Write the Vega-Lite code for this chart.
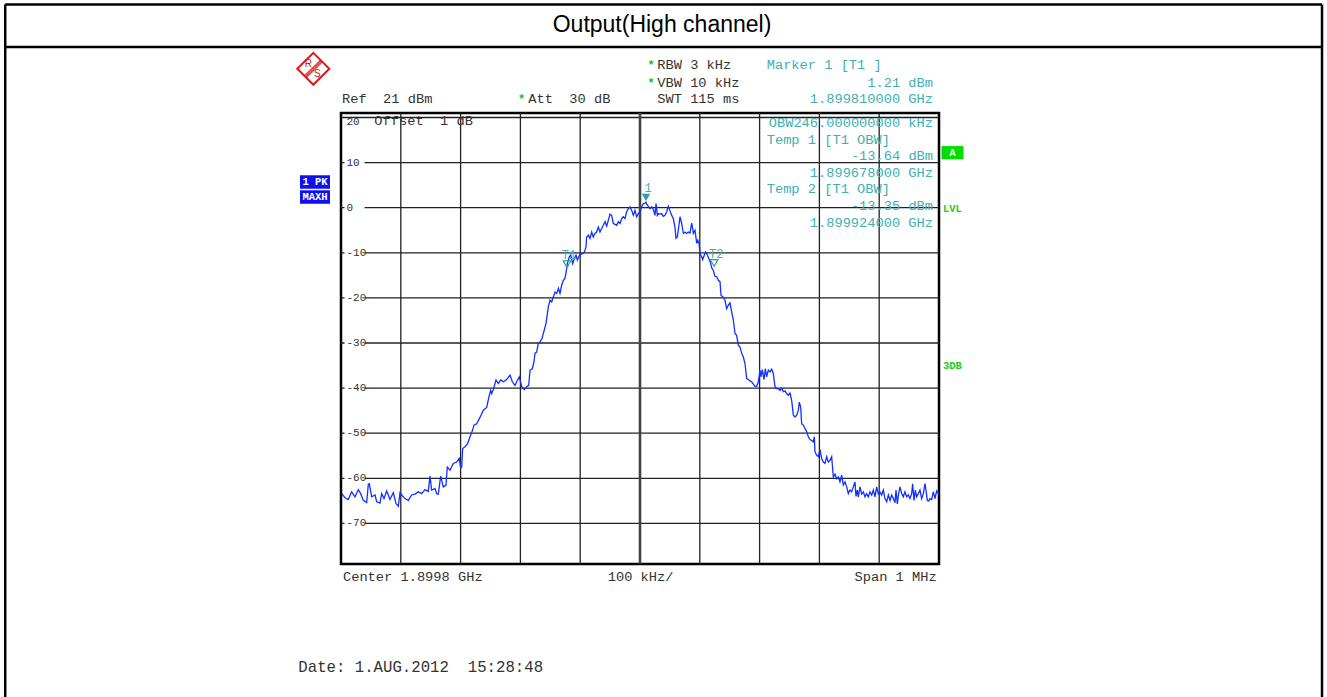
{
  "$schema": "https://vega.github.io/schema/vega-lite/v6.json",
  "width": 598,
  "height": 451,
  "autosize": {"type": "none"},
  "padding": {"left": 341, "top": 113, "right": 388, "bottom": 133},
  "background": "white",
  "config": {"view": {"stroke": "#000", "strokeWidth": 2.5}, "font": "Liberation Mono"},
  "datasets": {
    "trace": [
      {"f":1899.3011,"dBm":-63.4},{"f":1899.3067,"dBm":-64.3},{"f":1899.3122,"dBm":-64.7},{"f":1899.3178,"dBm":-63.0},{"f":1899.3234,"dBm":-64.1},{"f":1899.3289,"dBm":-62.5},{"f":1899.3329,"dBm":-63.4},{"f":1899.3373,"dBm":-64.9},{"f":1899.3429,"dBm":-65.4},{"f":1899.3457,"dBm":-61.3},{"f":1899.3473,"dBm":-61.2},{"f":1899.3513,"dBm":-64.1},{"f":1899.3569,"dBm":-63.7},{"f":1899.3597,"dBm":-65.2},{"f":1899.3652,"dBm":-65.5},{"f":1899.368,"dBm":-63.4},{"f":1899.3719,"dBm":-64.5},{"f":1899.3764,"dBm":-62.8},{"f":1899.3819,"dBm":-64.7},{"f":1899.3875,"dBm":-63.2},{"f":1899.392,"dBm":-65.6},{"f":1899.3958,"dBm":-66.2},{"f":1899.3987,"dBm":-63.2},{"f":1899.4015,"dBm":-63.7},{"f":1899.407,"dBm":-64.5},{"f":1899.4126,"dBm":-64.9},{"f":1899.4182,"dBm":-63.7},{"f":1899.4238,"dBm":-63.5},{"f":1899.4293,"dBm":-63.0},{"f":1899.4349,"dBm":-63.4},{"f":1899.4405,"dBm":-62.5},{"f":1899.446,"dBm":-62.9},{"f":1899.4488,"dBm":-59.5},{"f":1899.4516,"dBm":-62.6},{"f":1899.4572,"dBm":-62.3},{"f":1899.46,"dBm":-63.4},{"f":1899.4627,"dBm":-63.5},{"f":1899.4667,"dBm":-59.5},{"f":1899.4711,"dBm":-61.9},{"f":1899.4756,"dBm":-61.5},{"f":1899.4778,"dBm":-57.5},{"f":1899.4823,"dBm":-58.2},{"f":1899.4878,"dBm":-56.7},{"f":1899.4934,"dBm":-56.4},{"f":1899.4978,"dBm":-55.6},{"f":1899.5001,"dBm":-57.7},{"f":1899.5018,"dBm":-57.5},{"f":1899.5035,"dBm":-53.4},{"f":1899.5074,"dBm":-53.0},{"f":1899.5118,"dBm":-52.3},{"f":1899.5157,"dBm":-50.8},{"f":1899.5201,"dBm":-49.3},{"f":1899.5224,"dBm":-48.2},{"f":1899.5269,"dBm":-47.9},{"f":1899.5324,"dBm":-46.5},{"f":1899.538,"dBm":-44.9},{"f":1899.5436,"dBm":-44.3},{"f":1899.548,"dBm":-41.6},{"f":1899.5502,"dBm":-40.5},{"f":1899.5519,"dBm":-41.2},{"f":1899.5547,"dBm":-40.3},{"f":1899.5592,"dBm":-38.2},{"f":1899.5631,"dBm":-39.0},{"f":1899.5671,"dBm":-38.2},{"f":1899.5714,"dBm":-38.6},{"f":1899.5771,"dBm":-38.1},{"f":1899.5826,"dBm":-37.1},{"f":1899.5865,"dBm":-38.6},{"f":1899.591,"dBm":-39.4},{"f":1899.5938,"dBm":-38.6},{"f":1899.5982,"dBm":-37.5},{"f":1899.6022,"dBm":-39.7},{"f":1899.6066,"dBm":-40.3},{"f":1899.6105,"dBm":-39.7},{"f":1899.6139,"dBm":-39.4},{"f":1899.6161,"dBm":-36.0},{"f":1899.6199,"dBm":-35.7},{"f":1899.6227,"dBm":-34.2},{"f":1899.6244,"dBm":-32.3},{"f":1899.6272,"dBm":-32.0},{"f":1899.6299,"dBm":-30.1},{"f":1899.6328,"dBm":-29.8},{"f":1899.6361,"dBm":-29.0},
      {"f":1899.6428,"dBm":-25.7},{"f":1899.6467,"dBm":-22.0},{"f":1899.6495,"dBm":-20.5},{"f":1899.6523,"dBm":-20.9},{"f":1899.6551,"dBm":-19.8},{"f":1899.6579,"dBm":-18.7},{"f":1899.6607,"dBm":-19.0},{"f":1899.6636,"dBm":-17.9},{"f":1899.6662,"dBm":-19.0},{"f":1899.669,"dBm":-17.2},{"f":1899.6718,"dBm":-16.1},{"f":1899.6746,"dBm":-15.7},{"f":1899.6774,"dBm":-13.5},{"f":1899.6785,"dBm":-12.4},{"f":1899.6818,"dBm":-10.9},{"f":1899.6841,"dBm":-10.5},{"f":1899.6874,"dBm":-12.4},{"f":1899.6902,"dBm":-11.3},{"f":1899.693,"dBm":-10.5},{"f":1899.6952,"dBm":-11.6},{"f":1899.6975,"dBm":-10.9},{"f":1899.6997,"dBm":-10.3},{"f":1899.7025,"dBm":-10.3},{"f":1899.7064,"dBm":-10.0},{"f":1899.708,"dBm":-9.4},{"f":1899.7097,"dBm":-8.7},{"f":1899.7108,"dBm":-6.5},{"f":1899.7136,"dBm":-6.1},{"f":1899.7164,"dBm":-6.8},{"f":1899.7192,"dBm":-5.4},{"f":1899.7219,"dBm":-6.5},{"f":1899.7247,"dBm":-5.7},{"f":1899.7275,"dBm":-5.4},{"f":1899.7303,"dBm":-4.3},{"f":1899.7331,"dBm":-5.4},{"f":1899.7359,"dBm":-4.6},{"f":1899.7387,"dBm":-3.9},{"f":1899.7415,"dBm":-3.1},{"f":1899.7443,"dBm":-4.1},{"f":1899.747,"dBm":-2.8},{"f":1899.7498,"dBm":-1.4},{"f":1899.7526,"dBm":-1.7},{"f":1899.7554,"dBm":-3.5},{"f":1899.7582,"dBm":-3.7},{"f":1899.761,"dBm":-3.9},{"f":1899.7638,"dBm":-3.1},{"f":1899.7666,"dBm":-3.5},{"f":1899.7694,"dBm":-2.4},{"f":1899.7721,"dBm":-2.0},{"f":1899.7749,"dBm":-2.4},{"f":1899.7777,"dBm":-0.9},{"f":1899.7805,"dBm":-0.2},{"f":1899.7833,"dBm":0.2},{"f":1899.7861,"dBm":-0.6},{"f":1899.7889,"dBm":-1.7},{"f":1899.7916,"dBm":-0.6},{"f":1899.7944,"dBm":-2.0},{"f":1899.7972,"dBm":-1.3},
      {"f":1899.8,"dBm":-0.9},{"f":1899.8028,"dBm":0.2},{"f":1899.8056,"dBm":0.9},{"f":1899.8084,"dBm":1.0},{"f":1899.81,"dBm":1.21},{"f":1899.8111,"dBm":0.8},{"f":1899.8139,"dBm":0.3},{"f":1899.8167,"dBm":-0.2},{"f":1899.8195,"dBm":0.2},{"f":1899.8223,"dBm":-0.4},{"f":1899.8251,"dBm":-1.7},{"f":1899.8268,"dBm":0.9},{"f":1899.829,"dBm":-1.7},{"f":1899.8307,"dBm":-1.3},{"f":1899.8334,"dBm":-1.4},{"f":1899.8362,"dBm":-1.3},{"f":1899.839,"dBm":-1.9},{"f":1899.8418,"dBm":-1.7},{"f":1899.8446,"dBm":-0.9},{"f":1899.8474,"dBm":0.3},{"f":1899.8502,"dBm":-0.7},{"f":1899.853,"dBm":-1.7},{"f":1899.8557,"dBm":-2.4},{"f":1899.8585,"dBm":-4.3},{"f":1899.8602,"dBm":-6.8},{"f":1899.8624,"dBm":-6.5},{"f":1899.8647,"dBm":-4.3},{"f":1899.8669,"dBm":-2.0},{"f":1899.8697,"dBm":-3.5},{"f":1899.8725,"dBm":-5.7},{"f":1899.8753,"dBm":-5.4},{"f":1899.878,"dBm":-5.7},{"f":1899.8808,"dBm":-5.4},{"f":1899.8836,"dBm":-5.6},{"f":1899.8864,"dBm":-3.4},{"f":1899.8881,"dBm":-4.6},{"f":1899.8892,"dBm":-5.7},{"f":1899.892,"dBm":-5.0},{"f":1899.8948,"dBm":-7.9},{"f":1899.8964,"dBm":-7.2},{"f":1899.8987,"dBm":-7.9},{"f":1899.9003,"dBm":-10.2},{"f":1899.9031,"dBm":-10.9},{"f":1899.9048,"dBm":-11.5},{"f":1899.9076,"dBm":-10.5},{"f":1899.9098,"dBm":-9.8},{"f":1899.9126,"dBm":-10.5},{"f":1899.9154,"dBm":-11.3},{"f":1899.9182,"dBm":-12.4},{"f":1899.9198,"dBm":-13.3},{"f":1899.9226,"dBm":-13.9},{"f":1899.9254,"dBm":-15.2},{"f":1899.9282,"dBm":-15.3},{"f":1899.931,"dBm":-16.1},{"f":1899.9338,"dBm":-16.4},{"f":1899.9354,"dBm":-19.4},{"f":1899.9394,"dBm":-19.9},{"f":1899.9421,"dBm":-20.5},{"f":1899.9449,"dBm":-22.4},{"f":1899.9477,"dBm":-21.6},{"f":1899.9505,"dBm":-21.1},{"f":1899.9533,"dBm":-23.1},{"f":1899.9561,"dBm":-24.9},{"f":1899.9589,"dBm":-27.9},{"f":1899.9616,"dBm":-28.3},{"f":1899.9644,"dBm":-30.5},{"f":1899.9672,"dBm":-30.9},{"f":1899.97,"dBm":-32.3},{"f":1899.9728,"dBm":-33.1},{"f":1899.9756,"dBm":-34.6},{"f":1899.9784,"dBm":-37.9},{"f":1899.9812,"dBm":-38.1},{"f":1899.9839,"dBm":-38.4},{"f":1899.9867,"dBm":-38.6},{"f":1899.9895,"dBm":-39.1},{"f":1899.9923,"dBm":-39.6},{"f":1899.9951,"dBm":-39.6},{"f":1899.9979,"dBm":-38.6},{"f":1900.0007,"dBm":-36.0},{"f":1900.0023,"dBm":-37.5},{"f":1900.0046,"dBm":-35.9},{"f":1900.0074,"dBm":-38.1},{"f":1900.0096,"dBm":-35.7},{"f":1900.0118,"dBm":-37.5},{"f":1900.0146,"dBm":-36.0},{"f":1900.0174,"dBm":-36.4},{"f":1900.0202,"dBm":-35.8},{"f":1900.023,"dBm":-36.8},{"f":1900.0257,"dBm":-39.7},{"f":1900.0285,"dBm":-40.1},{"f":1900.0313,"dBm":-40.1},{"f":1900.0341,"dBm":-40.5},{"f":1900.0369,"dBm":-40.0},{"f":1900.0397,"dBm":-40.8},{"f":1900.0425,"dBm":-40.6},{"f":1900.0453,"dBm":-41.2},{"f":1900.048,"dBm":-41.6},{"f":1900.0508,"dBm":-41.1},{"f":1900.0536,"dBm":-42.7},{"f":1900.0564,"dBm":-46.0},{"f":1900.0592,"dBm":-46.4},{"f":1900.062,"dBm":-46.0},{"f":1900.0648,"dBm":-44.9},{"f":1900.0664,"dBm":-43.1},{"f":1900.0687,"dBm":-44.2},{"f":1900.0703,"dBm":-47.9},{"f":1900.0731,"dBm":-48.2},{"f":1900.0759,"dBm":-49.0},{"f":1900.0787,"dBm":-49.6},
      {"f":1900.0815,"dBm":-50.8},{"f":1900.0843,"dBm":-51.4},{"f":1900.0871,"dBm":-51.6},{"f":1900.0898,"dBm":-51.9},{"f":1900.0915,"dBm":-50.8},{"f":1900.0926,"dBm":-54.1},{"f":1900.0954,"dBm":-54.9},{"f":1900.0982,"dBm":-55.2},{"f":1900.101,"dBm":-53.6},{"f":1900.1038,"dBm":-55.6},{"f":1900.1066,"dBm":-56.4},{"f":1900.1094,"dBm":-56.7},{"f":1900.1121,"dBm":-55.2},{"f":1900.1149,"dBm":-56.4},{"f":1900.1177,"dBm":-56.0},{"f":1900.1205,"dBm":-55.2},{"f":1900.1233,"dBm":-59.7},{"f":1900.1261,"dBm":-59.1},{"f":1900.1289,"dBm":-60.1},{"f":1900.1317,"dBm":-59.7},{"f":1900.1344,"dBm":-60.8},{"f":1900.1372,"dBm":-59.3},{"f":1900.14,"dBm":-61.5},{"f":1900.1428,"dBm":-60.8},{"f":1900.1456,"dBm":-61.9},{"f":1900.1484,"dBm":-63.4},{"f":1900.1512,"dBm":-62.6},{"f":1900.1539,"dBm":-63.0},{"f":1900.1567,"dBm":-61.9},{"f":1900.1595,"dBm":-60.8},{"f":1900.1612,"dBm":-64.0},{"f":1900.1634,"dBm":-62.6},{"f":1900.1651,"dBm":-64.1},{"f":1900.1679,"dBm":-61.9},{"f":1900.1707,"dBm":-63.5},{"f":1900.1735,"dBm":-63.0},{"f":1900.1762,"dBm":-64.1},{"f":1900.179,"dBm":-63.4},{"f":1900.1818,"dBm":-64.1},{"f":1900.1846,"dBm":-63.0},{"f":1900.1874,"dBm":-63.7},{"f":1900.1902,"dBm":-62.6},{"f":1900.193,"dBm":-64.1},{"f":1900.1958,"dBm":-61.9},{"f":1900.1985,"dBm":-63.5},{"f":1900.2013,"dBm":-63.0},{"f":1900.2041,"dBm":-63.7},{"f":1900.2069,"dBm":-62.6},{"f":1900.2097,"dBm":-64.5},{"f":1900.2125,"dBm":-65.2},{"f":1900.2153,"dBm":-63.7},{"f":1900.2181,"dBm":-64.9},{"f":1900.2208,"dBm":-63.7},{"f":1900.2236,"dBm":-64.5},{"f":1900.2264,"dBm":-65.4},{"f":1900.2281,"dBm":-62.6},{"f":1900.2303,"dBm":-65.7},{"f":1900.2325,"dBm":-63.4},{"f":1900.2348,"dBm":-61.9},{"f":1900.2376,"dBm":-63.4},{"f":1900.2403,"dBm":-64.1},{"f":1900.2431,"dBm":-63.0},{"f":1900.2459,"dBm":-64.1},{"f":1900.2487,"dBm":-63.7},{"f":1900.2515,"dBm":-64.5},{"f":1900.2543,"dBm":-63.4},{"f":1900.2559,"dBm":-61.2},{"f":1900.2582,"dBm":-64.9},{"f":1900.2604,"dBm":-62.6},{"f":1900.2626,"dBm":-64.1},{"f":1900.2654,"dBm":-63.4},{"f":1900.2682,"dBm":-62.6},{"f":1900.271,"dBm":-64.5},{"f":1900.2738,"dBm":-63.4},{"f":1900.2766,"dBm":-61.2},{"f":1900.2782,"dBm":-62.6},{"f":1900.2805,"dBm":-64.9},{"f":1900.2827,"dBm":-65.0},{"f":1900.2849,"dBm":-64.5},{"f":1900.2877,"dBm":-64.7},{"f":1900.2905,"dBm":-63.0},{"f":1900.2933,"dBm":-64.5},{"f":1900.2961,"dBm":-62.8},{"f":1900.2995,"dBm":-63.5}
    ],
    "vgrid": [
      {"g": 1899.4}, {"g": 1899.5}, {"g": 1899.6}, {"g": 1899.7}, {"g": 1899.9}, {"g": 1900.0}, {"g": 1900.1}, {"g": 1900.2}
    ],
    "hgrid": [
      {"g": 20}, {"g": 10}, {"g": 0}, {"g": -10}, {"g": -20}, {"g": -30}, {"g": -40}, {"g": -50}, {"g": -60}, {"g": -70}
    ],
    "markers": [
      {"name": "1", "f": 1899.81, "dBm": 1.21, "kind": "marker"},
      {"name": "T1", "f": 1899.678, "dBm": -13.64, "kind": "temp"},
      {"name": "T2", "f": 1899.924, "dBm": -13.35, "kind": "temp"}
    ],
    "levels": [
      {"v": 10, "lbl": "10"}, {"v": 0, "lbl": "0"}, {"v": -10, "lbl": "-10"}, {"v": -20, "lbl": "-20"},
      {"v": -30, "lbl": "-30"}, {"v": -40, "lbl": "-40"}, {"v": -50, "lbl": "-50"}, {"v": -60, "lbl": "-60"}, {"v": -70, "lbl": "-70"}
    ],
    "blackLeft": [
      {"t": "Ref\u00a0\u00a021\u00a0dBm", "f": 1899.3017, "d": 24.1},
      {"t": "Att\u00a0\u00a030\u00a0dB", "f": 1899.6132, "d": 24.1},
      {"t": "RBW\u00a03\u00a0kHz", "f": 1899.8289, "d": 31.64},
      {"t": "VBW\u00a010\u00a0kHz", "f": 1899.8289, "d": 27.72},
      {"t": "SWT\u00a0115\u00a0ms", "f": 1899.8289, "d": 24.1},
      {"t": "Offset\u00a0\u00a01\u00a0dB", "f": 1899.3557, "d": 19.23},
      {"t": "Center\u00a01.8998\u00a0GHz", "f": 1899.3033, "d": -81.88},
      {"t": "100\u00a0kHz/", "f": 1899.746, "d": -81.88}
    ],
    "blackRight": [
      {"t": "Span\u00a01\u00a0MHz", "f": 1900.2961, "d": -81.88}
    ],
    "stars": [
      {"f": 1899.6022, "d": 24.1},
      {"f": 1899.8184, "d": 31.64},
      {"f": 1899.8184, "d": 27.72}
    ],
    "tealLeft": [
      {"t": "Marker\u00a01\u00a0[T1\u00a0]", "f": 1900.0119, "d": 31.64},
      {"t": "Temp\u00a01\u00a0[T1\u00a0OBW]", "f": 1900.0119, "d": 15.01},
      {"t": "Temp\u00a02\u00a0[T1\u00a0OBW]", "f": 1900.0119, "d": 4.08}
    ],
    "tealRight": [
      {"t": "1.21\u00a0dBm", "f": 1900.29, "d": 27.72},
      {"t": "1.899810000\u00a0GHz", "f": 1900.29, "d": 24.1},
      {"t": "OBW246.000000000\u00a0kHz", "f": 1900.29, "d": 18.85},
      {"t": "-13.64\u00a0dBm", "f": 1900.29, "d": 11.53},
      {"t": "1.899678000\u00a0GHz", "f": 1900.29, "d": 7.76},
      {"t": "-13.35\u00a0dBm", "f": 1900.29, "d": 0.38},
      {"t": "1.899924000\u00a0GHz", "f": 1900.29, "d": -3.32}
    ],
    "greenLabels": [
      {"t": "LVL", "f": 1900.3067, "d": -0.29},
      {"t": "3DB", "f": 1900.3067, "d": -35.1}
    ],
    "greenBox": [
      {"t": "A", "f": 1900.3226, "d": 12.2}
    ],
    "blueBoxes": [
      {"t": "1\u00a0PK", "f": 1899.2565, "d": 5.7},
      {"t": "MAXH", "f": 1899.2565, "d": 2.37}
    ],
    "logoBand": [
      {"f": 1899.2403, "d": 29.05, "f2": 1899.2671, "d2": 32.49}
    ],
    "logoLetters": [
      {"t": "R", "f": 1899.2453, "d": 31.8},
      {"t": "S", "f": 1899.2604, "d": 29.58}
    ],
    "frame": [
      {"x1": 1898.7385, "x2": 1900.9405, "y1": 45.06, "y2": 45.06},
      {"x1": 1898.7385, "x2": 1900.9405, "y1": 35.63, "y2": 35.63},
      {"x1": 1898.7385, "x2": 1898.7385, "y1": 45.06, "y2": -125},
      {"x1": 1900.9405, "x2": 1900.9405, "y1": 45.06, "y2": -125}
    ],
    "header": [
      {"t": "Output(High channel)", "f": 1899.8368, "d": 40.51}
    ],
    "footer": [
      {"t": "Date:\u00a01.AUG.2012\u00a0\u00a015:28:48", "f": 1899.2286, "d": -101.77}
    ]
  },
  "layer": [
    {
      "data": {"name": "vgrid"},
      "mark": {"type": "rule", "color": "#222", "strokeWidth": 1.3},
      "encoding": {
        "x": {"field": "g", "type": "quantitative", "scale": {"domain": [1899.3, 1900.3], "nice": false, "zero": false}, "axis": null}
      }
    },
    {
      "data": {"name": "hgrid"},
      "mark": {"type": "rule", "color": "#222", "strokeWidth": 1.3},
      "encoding": {
        "y": {"field": "g", "type": "quantitative", "scale": {"domain": [-79, 21], "nice": false, "zero": false}, "axis": null}
      }
    },
    {
      "data": {"values": [{}]},
      "mark": {"type": "rule", "color": "#444", "strokeWidth": 2.6},
      "encoding": {"x": {"datum": 1899.8, "type": "quantitative", "axis": null}}
    },
    {
      "data": {"name": "levels"},
      "mark": {"type": "point", "shape": "M-1,-0.5H1V0.5H-1Z", "size": 400, "filled": true, "color": "white", "opacity": 1, "strokeWidth": 0},
      "encoding": {
        "x": {"datum": 1899.3226, "type": "quantitative", "axis": null},
        "y": {"field": "v", "type": "quantitative", "axis": null}
      }
    },
    {
      "data": {"name": "levels"},
      "mark": {"type": "text", "align": "left", "baseline": "middle", "font": "Liberation Mono", "fontSize": 11, "color": "#333"},
      "encoding": {
        "x": {"datum": 1899.3092, "type": "quantitative", "axis": null},
        "y": {"field": "v", "type": "quantitative", "axis": null},
        "text": {"field": "lbl"}
      }
    },
    {
      "data": {"values": [{}]},
      "mark": {"type": "text", "align": "left", "baseline": "middle", "font": "Liberation Mono", "fontSize": 11, "color": "#333", "text": "20", "dy": 4},
      "encoding": {
        "x": {"datum": 1899.3092, "type": "quantitative", "axis": null},
        "y": {"datum": 20, "type": "quantitative", "axis": null}
      }
    },
    {
      "data": {"name": "trace"},
      "mark": {"type": "line", "color": "#1030ff", "strokeWidth": 1.3},
      "encoding": {
        "x": {"field": "f", "type": "quantitative", "axis": null},
        "y": {"field": "dBm", "type": "quantitative", "axis": null}
      }
    },
    {
      "data": {"name": "markers"},
      "transform": [{"filter": "datum.kind === 'marker'"}],
      "mark": {"type": "point", "shape": "triangle-down", "size": 70, "filled": true, "color": "#2aa0a0", "opacity": 1, "yOffset": -5},
      "encoding": {
        "x": {"field": "f", "type": "quantitative", "axis": null},
        "y": {"field": "dBm", "type": "quantitative", "axis": null}
      }
    },
    {
      "data": {"name": "markers"},
      "transform": [{"filter": "datum.kind === 'temp'"}],
      "mark": {"type": "point", "shape": "triangle-down", "size": 60, "filled": false, "color": "#2aa0a0", "strokeWidth": 1.2, "opacity": 1, "yOffset": -5},
      "encoding": {
        "x": {"field": "f", "type": "quantitative", "axis": null},
        "y": {"field": "dBm", "type": "quantitative", "axis": null}
      }
    },
    {
      "data": {"name": "markers"},
      "mark": {"type": "text", "align": "center", "baseline": "middle", "font": "Liberation Mono", "fontSize": 12, "color": "#40b0b0", "dy": -14, "dx": 2},
      "encoding": {
        "x": {"field": "f", "type": "quantitative", "axis": null},
        "y": {"field": "dBm", "type": "quantitative", "axis": null},
        "text": {"field": "name"}
      }
    },
    {
      "data": {"name": "blackLeft"},
      "mark": {"type": "text", "align": "left", "baseline": "middle", "font": "Liberation Mono", "fontSize": 13.7, "color": "#333"},
      "encoding": {
        "x": {"field": "f", "type": "quantitative", "axis": null},
        "y": {"field": "d", "type": "quantitative", "axis": null},
        "text": {"field": "t"}
      }
    },
    {
      "data": {"name": "blackRight"},
      "mark": {"type": "text", "align": "right", "baseline": "middle", "font": "Liberation Mono", "fontSize": 13.7, "color": "#333"},
      "encoding": {
        "x": {"field": "f", "type": "quantitative", "axis": null},
        "y": {"field": "d", "type": "quantitative", "axis": null},
        "text": {"field": "t"}
      }
    },
    {
      "data": {"name": "stars"},
      "mark": {"type": "text", "align": "center", "baseline": "middle", "font": "Liberation Mono", "fontSize": 12, "fontWeight": "bold", "color": "#22c022", "text": "*"},
      "encoding": {
        "x": {"field": "f", "type": "quantitative", "axis": null},
        "y": {"field": "d", "type": "quantitative", "axis": null}
      }
    },
    {
      "data": {"name": "tealLeft"},
      "mark": {"type": "text", "align": "left", "baseline": "middle", "font": "Liberation Mono", "fontSize": 13.7, "color": "#40b0b0"},
      "encoding": {
        "x": {"field": "f", "type": "quantitative", "axis": null},
        "y": {"field": "d", "type": "quantitative", "axis": null},
        "text": {"field": "t"}
      }
    },
    {
      "data": {"name": "tealRight"},
      "mark": {"type": "text", "align": "right", "baseline": "middle", "font": "Liberation Mono", "fontSize": 13.7, "color": "#40b0b0"},
      "encoding": {
        "x": {"field": "f", "type": "quantitative", "axis": null},
        "y": {"field": "d", "type": "quantitative", "axis": null},
        "text": {"field": "t"}
      }
    },
    {
      "data": {"name": "greenLabels"},
      "mark": {"type": "text", "align": "left", "baseline": "middle", "font": "Liberation Mono", "fontSize": 10.5, "fontWeight": "bold", "color": "#22cc22"},
      "encoding": {
        "x": {"field": "f", "type": "quantitative", "axis": null},
        "y": {"field": "d", "type": "quantitative", "axis": null},
        "text": {"field": "t"}
      }
    },
    {
      "data": {"name": "greenBox"},
      "mark": {"type": "point", "shape": "M-1,-0.6H1V0.6H-1Z", "size": 484, "filled": true, "color": "#00dd00", "opacity": 1, "strokeWidth": 0},
      "encoding": {
        "x": {"field": "f", "type": "quantitative", "axis": null},
        "y": {"field": "d", "type": "quantitative", "axis": null}
      }
    },
    {
      "data": {"name": "greenBox"},
      "mark": {"type": "text", "align": "center", "baseline": "middle", "font": "Liberation Mono", "fontSize": 10, "fontWeight": "bold", "color": "white"},
      "encoding": {
        "x": {"field": "f", "type": "quantitative", "axis": null},
        "y": {"field": "d", "type": "quantitative", "axis": null},
        "text": {"field": "t"}
      }
    },
    {
      "data": {"name": "blueBoxes"},
      "mark": {"type": "point", "shape": "M-1,-0.45H1V0.45H-1Z", "size": 900, "filled": true, "color": "#1010ee", "opacity": 1, "strokeWidth": 0},
      "encoding": {
        "x": {"field": "f", "type": "quantitative", "axis": null},
        "y": {"field": "d", "type": "quantitative", "axis": null}
      }
    },
    {
      "data": {"name": "blueBoxes"},
      "mark": {"type": "text", "align": "center", "baseline": "middle", "font": "Liberation Mono", "fontSize": 10.5, "fontWeight": "bold", "color": "white"},
      "encoding": {
        "x": {"field": "f", "type": "quantitative", "axis": null},
        "y": {"field": "d", "type": "quantitative", "axis": null},
        "text": {"field": "t"}
      }
    },
    {
      "data": {"values": [{}]},
      "mark": {"type": "point", "shape": "diamond", "size": 1024, "filled": false, "color": "#d41c1c", "strokeWidth": 2, "opacity": 1},
      "encoding": {
        "x": {"datum": 1899.2537, "type": "quantitative", "axis": null},
        "y": {"datum": 30.8, "type": "quantitative", "axis": null}
      }
    },
    {
      "data": {"name": "logoBand"},
      "mark": {"type": "rule", "color": "#d41c1c", "strokeWidth": 4, "opacity": 0.75},
      "encoding": {
        "x": {"field": "f", "type": "quantitative", "axis": null},
        "y": {"field": "d", "type": "quantitative", "axis": null},
        "x2": {"field": "f2"},
        "y2": {"field": "d2"}
      }
    },
    {
      "data": {"name": "logoLetters"},
      "mark": {"type": "text", "align": "center", "baseline": "middle", "font": "Liberation Sans", "fontSize": 10, "color": "#d41c1c"},
      "encoding": {
        "x": {"field": "f", "type": "quantitative", "axis": null},
        "y": {"field": "d", "type": "quantitative", "axis": null},
        "text": {"field": "t"}
      }
    },
    {
      "data": {"name": "frame"},
      "mark": {"type": "rule", "color": "#000", "strokeWidth": 2.5},
      "encoding": {
        "x": {"field": "x1", "type": "quantitative", "axis": null},
        "x2": {"field": "x2"},
        "y": {"field": "y1", "type": "quantitative", "axis": null},
        "y2": {"field": "y2"}
      }
    },
    {
      "data": {"name": "header"},
      "mark": {"type": "text", "align": "center", "baseline": "middle", "font": "Liberation Sans", "fontSize": 23, "color": "#000"},
      "encoding": {
        "x": {"field": "f", "type": "quantitative", "axis": null},
        "y": {"field": "d", "type": "quantitative", "axis": null},
        "text": {"field": "t"}
      }
    },
    {
      "data": {"name": "footer"},
      "mark": {"type": "text", "align": "left", "baseline": "middle", "font": "Liberation Mono", "fontSize": 15.7, "color": "#333"},
      "encoding": {
        "x": {"field": "f", "type": "quantitative", "axis": null},
        "y": {"field": "d", "type": "quantitative", "axis": null},
        "text": {"field": "t"}
      }
    }
  ]
}
